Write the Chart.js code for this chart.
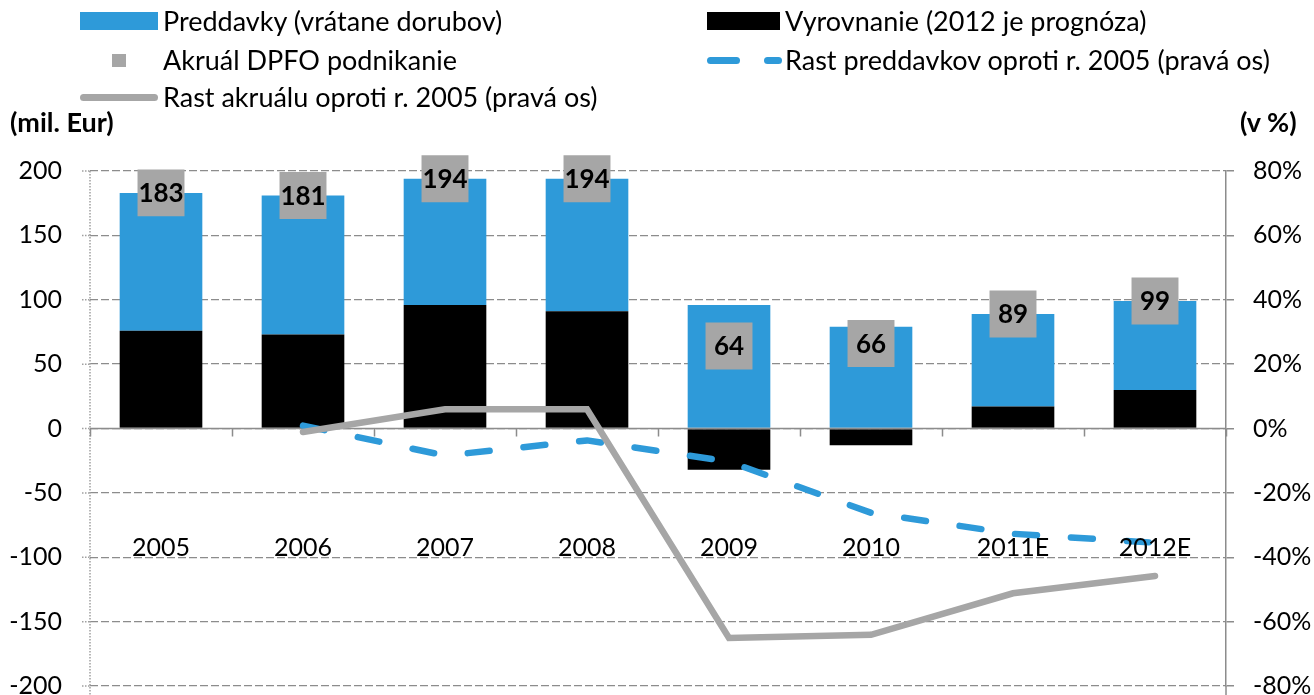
<!DOCTYPE html>
<html><head><meta charset="utf-8">
<script src="https://cdn.jsdelivr.net/npm/chart.js@4.4.1/dist/chart.umd.min.js"></script>
<style>
html,body{margin:0;padding:0;background:#fff;}
#wrap{position:relative;width:1314px;height:695px;overflow:hidden;font-family:Lato,sans-serif;}
canvas{position:absolute;left:0;top:0;}
.lg{position:absolute;font-size:27px;line-height:30px;height:30px;color:#000;white-space:nowrap;}
.sym{position:absolute;}
</style></head><body>
<div id="wrap">
<canvas id="c" width="1314" height="695"></canvas>
<div class="sym" style="left:80px;top:12px;width:78px;height:18px;background:#2e9ad9"></div>
<div class="lg" style="left:163px;top:6px">Preddavky (vrátane dorubov)</div>
<div class="sym" style="left:707px;top:12px;width:73px;height:18px;background:#000"></div>
<div class="lg" style="left:785px;top:6px">Vyrovnanie (2012 je prognóza)</div>
<div class="sym" style="left:112px;top:54px;width:14px;height:13px;background:#a6a6a6"></div>
<div class="lg" style="left:163px;top:45px">Akruál DPFO podnikanie</div>
<div class="sym" style="left:707px;top:57px;width:33px;height:7px;border-radius:4px;background:#2e9ad9"></div>
<div class="sym" style="left:764px;top:57px;width:18px;height:7px;border-radius:4px;background:#2e9ad9"></div>
<div class="lg" style="left:785px;top:45px">Rast preddavkov oproti r. 2005 (pravá os)</div>
<div class="sym" style="left:80px;top:94px;width:78px;height:7px;border-radius:4px;background:#a6a6a6"></div>
<div class="lg" style="left:163px;top:82px">Rast akruálu oproti r. 2005 (pravá os)</div>
<div class="lg" style="left:10px;top:107px;font-weight:bold;font-size:27px">(mil. Eur)</div>
<div class="lg" style="left:1240px;top:107px;font-weight:bold;font-size:27px">(v %)</div>
</div>
<script>
const categories = ['2005','2006','2007','2008','2009','2010','2011E','2012E'];
const preddavky = [107, 108, 98, 103, 96, 79, 72, 69];
const vyrovnanie = [76, 73, 96, 91, -32, -13, 17, 30];
const akrual = [183, 181, 194, 194, 64, 66, 89, 99];
const rastPreddavkov = [null, 0.9, -8.4, -3.7, -10.3, -26.2, -32.7, -35.5];
const rastAkrualu = [null, -1.1, 6.0, 6.0, -65.1, -64.1, -51.2, -45.8];

const BLUE = '#2e9ad9', GREY = '#a6a6a6', AXIS = '#8c8c8c';
const AREA = { top: 171, bottom: 686 };
Chart.defaults.font.family = 'Lato, sans-serif';
Chart.defaults.color = '#000';

const deco = {
  id: 'deco',
  beforeDatasetsDraw(chart) {
    const {ctx, chartArea: a, scales: {y}} = chart;
    ctx.save();
    ctx.strokeStyle = '#a0a0a0';
    ctx.lineWidth = 1.5;
    ctx.setLineDash([1.5, 1.5]);
    ctx.beginPath();
    ctx.moveTo(a.left, a.top);
    ctx.lineTo(a.left, 695);
    y.ticks.forEach(t => {
      const py = y.getPixelForValue(t.value);
      ctx.moveTo(a.left - 8, py);
      ctx.lineTo(a.left, py);
    });
    ctx.stroke();
    ctx.setLineDash([]);
    ctx.strokeStyle = AXIS;
    ctx.beginPath();
    ctx.moveTo(a.right, a.bottom);
    ctx.lineTo(a.right, 695);
    ctx.stroke();
    ctx.restore();
  },
  beforeDatasetDraw(chart, args) {
    if (args.index !== 2) return;
    const {ctx, chartArea: a, scales: {y}} = chart;
    const y0 = y.getPixelForValue(0);
    const n = categories.length, w = (a.right - a.left) / n;
    ctx.save();
    ctx.strokeStyle = AXIS;
    ctx.lineWidth = 1.5;
    ctx.beginPath();
    ctx.moveTo(a.left, y0);
    ctx.lineTo(a.right, y0);
    for (let i = 0; i <= n; i++) {
      const px = Math.round(a.left + i * w) + 0.5;
      ctx.moveTo(px, y0);
      ctx.lineTo(px, y0 + 8);
    }
    ctx.stroke();
    ctx.restore();
  },
  afterDatasetsDraw(chart) {
    const {ctx, scales: {x, y}} = chart;
    const y0 = y.getPixelForValue(0);
    ctx.save();
    ctx.fillStyle = '#000';
    ctx.textAlign = 'center';
    ctx.textBaseline = 'middle';
    ctx.font = 'bold 26px Lato, sans-serif';
    const meta = chart.getDatasetMeta(0);
    meta.data.forEach((pt, i) => {
      ctx.fillText(String(akrual[i]), pt.x, pt.y + 1);
    });
    ctx.font = '25px Lato, sans-serif';
    categories.forEach((c, i) => {
      ctx.fillText(c, x.getPixelForValue(i), y0 + 119);
    });
    ctx.restore();
  }
};

const chart = new Chart(document.getElementById('c'), {
  data: {
    labels: categories,
    datasets: [
      {
        type: 'line', label: 'Akruál DPFO podnikanie', data: akrual, yAxisID: 'y', stack: 'akr',
        showLine: false, pointStyle: 'rect', pointRadius: 33.2, pointHoverRadius: 33.2,
        pointBackgroundColor: GREY, pointBorderWidth: 0, backgroundColor: GREY, borderColor: GREY,
        clip: false, order: 0
      },
      {
        type: 'line', label: 'Rast akruálu oproti r. 2005 (pravá os)', data: rastAkrualu, yAxisID: 'y1',
        borderColor: GREY, borderWidth: 6.5, pointRadius: 0, borderCapStyle: 'round',
        borderJoinStyle: 'miter', tension: 0, fill: false, clip: false, order: 1
      },
      {
        type: 'line', label: 'Rast preddavkov oproti r. 2005 (pravá os)', data: rastPreddavkov, yAxisID: 'y1',
        borderColor: BLUE, borderWidth: 6.5, borderDash: [22, 34], pointRadius: 0, borderCapStyle: 'round',
        borderJoinStyle: 'round', tension: 0, fill: false, clip: false, order: 2
      },
      {
        type: 'bar', label: 'Vyrovnanie (2012 je prognóza)', data: vyrovnanie, yAxisID: 'y', stack: 'b',
        backgroundColor: '#000', borderWidth: 0, barPercentage: 0.582, categoryPercentage: 1, order: 3
      },
      {
        type: 'bar', label: 'Preddavky (vrátane dorubov)', data: preddavky, yAxisID: 'y', stack: 'b',
        backgroundColor: BLUE, borderWidth: 0, barPercentage: 0.582, categoryPercentage: 1, order: 3
      }
    ]
  },
  options: {
    responsive: false,
    devicePixelRatio: 1,
    animation: false,
    events: [],
    layout: { autoPadding: false, padding: { top: AREA.top, bottom: 695 - AREA.bottom, left: 0, right: 0 } },
    plugins: { legend: { display: false }, tooltip: { enabled: false } },
    scales: {
      x: { display: false, stacked: true },
      y: {
        position: 'left', stacked: true, min: -200, max: 200,
        ticks: { stepSize: 50, padding: 28, font: { size: 25 }, color: '#000' },
        grid: { color: AXIS, lineWidth: 1.3, drawTicks: false },
        border: { display: false, dash: [8, 3] },
        afterFit(s) { s.width = 90; s.paddingTop = 0; s.paddingBottom = 0; }
      },
      y1: {
        position: 'right', min: -80, max: 80,
        ticks: { stepSize: 20, padding: 19, font: { size: 25 }, color: '#000', callback: v => v + '%' },
        grid: { drawOnChartArea: false, drawTicks: true, tickLength: 8, color: AXIS, lineWidth: 1.5 },
        border: { display: true, color: AXIS, width: 1.5 },
        afterFit(s) { s.width = 88; s.paddingTop = 0; s.paddingBottom = 0; }
      }
    }
  },
  plugins: [deco]
});

// make sure the plot area lands where the reference has it
const ca = chart.chartArea;
const dTop = AREA.top - ca.top, dBottom = ca.bottom - AREA.bottom;
if (Math.abs(dTop) > 0.5 || Math.abs(dBottom) > 0.5) {
  chart.options.layout.padding = { top: AREA.top + dTop, bottom: 695 - AREA.bottom + dBottom, left: 0, right: 0 };
  chart.update();
}
</script>
</body></html>
